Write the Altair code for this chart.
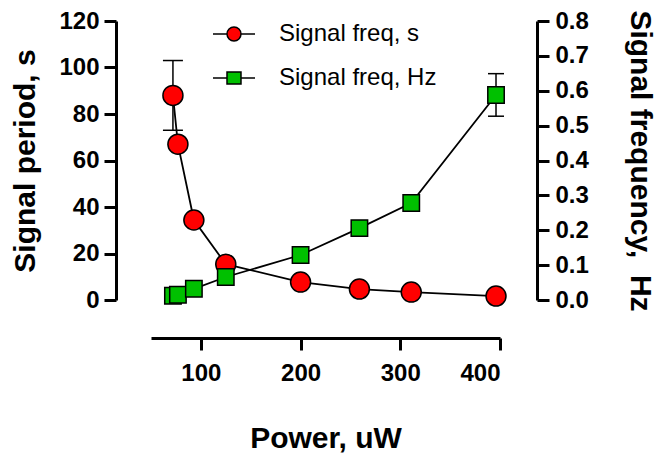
import altair as alt
import pandas as pd

# ---- data ----
power = [72, 77, 93, 125, 200, 259, 311, 396]
period = [88, 67, 34.4, 15.4, 7.7, 4.7, 3.4, 1.7]
period_err = [15, 0, 0, 0, 0, 0, 0, 0]
freq = [0.012, 0.015, 0.032, 0.066, 0.129, 0.206, 0.278, 0.588]
freq_err = [0, 0, 0, 0, 0, 0, 0, 0.061]
series_names = ["Signal freq, s", "Signal freq, Hz"]
x_ticks = [100, 200, 300, 400]
left_ticks = [0, 20, 40, 60, 80, 100, 120]
right_ticks = [0, 0.1, 0.2, 0.3, 0.4, 0.5, 0.6, 0.7, 0.8]

df = pd.DataFrame({"power": power, "period": period, "period_err": period_err,
                   "freq": freq, "freq_err": freq_err})
df["p_lo"] = df["period"] - df["period_err"]
df["p_hi"] = df["period"] + df["period_err"]
df["f_lo"] = df["freq"] - df["freq_err"]
df["f_hi"] = df["freq"] + df["freq_err"]

legend_df = pd.DataFrame({"series": series_names})

FONT = "Liberation Sans"

x_enc = alt.X("power:Q",
              scale=alt.Scale(domain=[50, 400], nice=False, zero=False),
              axis=alt.Axis(values=x_ticks, title="Power, uW", offset=38,
                            labelPadding=11, titlePadding=38))

y_left_scale = alt.Scale(domain=[0, 120], nice=False, zero=False)
y_left_axis = alt.Axis(values=left_ticks, title="Signal period, s", offset=35,
                       labelPadding=5, titlePadding=18)
y_right_scale = alt.Scale(domain=[0, 0.8], nice=False, zero=False)
y_right_axis = alt.Axis(values=right_ticks, format=".1f", orient="right",
                        title="Signal frequency,\u00a0\u00a0Hz", offset=37,
                        labelPadding=6, titlePadding=36)

base = alt.Chart(df)

left = alt.layer(
    base.mark_rule(color="black", strokeWidth=1.5).encode(
        x=x_enc, y=alt.Y("p_lo:Q", scale=y_left_scale, axis=y_left_axis), y2="p_hi:Q"),
    base.mark_tick(orient="horizontal", size=20, thickness=1.5, color="black", opacity=1).encode(
        x=x_enc, y=alt.Y("p_hi:Q", scale=y_left_scale, axis=y_left_axis)),
    base.mark_tick(orient="horizontal", size=20, thickness=1.5, color="black", opacity=1).encode(
        x=x_enc, y=alt.Y("p_lo:Q", scale=y_left_scale, axis=y_left_axis)),
    base.mark_line(color="black", strokeWidth=1.8).encode(
        x=x_enc, y=alt.Y("period:Q", scale=y_left_scale, axis=y_left_axis)),
    base.mark_point(shape="circle", filled=True, fill="#FF0000", stroke="black",
                    strokeWidth=1.5, size=400, opacity=1).encode(
        x=x_enc, y=alt.Y("period:Q", scale=y_left_scale, axis=y_left_axis)),
)

right = alt.layer(
    base.mark_rule(color="black", strokeWidth=1.5).encode(
        x=x_enc, y=alt.Y("f_lo:Q", scale=y_right_scale, axis=y_right_axis), y2="f_hi:Q"),
    base.mark_tick(orient="horizontal", size=16, thickness=1.5, color="black", opacity=1).encode(
        x=x_enc, y=alt.Y("f_hi:Q", scale=y_right_scale, axis=y_right_axis)),
    base.mark_tick(orient="horizontal", size=16, thickness=1.5, color="black", opacity=1).encode(
        x=x_enc, y=alt.Y("f_lo:Q", scale=y_right_scale, axis=y_right_axis)),
    base.mark_line(color="black", strokeWidth=1.8).encode(
        x=x_enc, y=alt.Y("freq:Q", scale=y_right_scale, axis=y_right_axis)),
    base.mark_point(shape="square", filled=True, fill="#00C000", stroke="black",
                    strokeWidth=1.5, size=270, opacity=1).encode(
        x=x_enc, y=alt.Y("freq:Q", scale=y_right_scale, axis=y_right_axis)),
)

circ_path = ("M-1,0L-0.333,0M0.333,0L1,0"
             "M0.333,0A0.333,0.333,0,1,1,-0.333,0A0.333,0.333,0,1,1,0.333,0Z")
sq_path = ("M-1,0L-0.333,0M0.333,0L1,0"
           "M-0.333,-0.29L0.333,-0.29L0.333,0.29L-0.333,0.29Z")

leg = alt.Legend(orient="none", legendX=61, legendY=-9, title=None,
                 labelFontSize=24, labelFont=FONT, labelColor="black",
                 symbolSize=1764, labelOffset=23, rowPadding=10, padding=0,
                 symbolStrokeColor="black", symbolStrokeWidth=1.5)

legend_layer = alt.Chart(legend_df).transform_filter("false").mark_point(
    filled=True, strokeWidth=1.5, opacity=1).encode(
    shape=alt.Shape("series:N", scale=alt.Scale(domain=series_names,
                                                range=[circ_path, sq_path]), legend=leg),
    fill=alt.Fill("series:N", scale=alt.Scale(domain=series_names,
                                              range=["#FF0000", "#00C000"]), legend=leg),
    stroke=alt.Stroke("series:N", scale=alt.Scale(domain=series_names,
                                                  range=["black", "black"]), legend=leg),
)

chart = alt.layer(left, right, legend_layer).resolve_scale(
    y="independent"
).properties(
    width=349, height=279,
    autosize=alt.AutoSizeParams(type="none"),
    padding={"left": 143, "top": 13, "right": 158, "bottom": 154},
).configure_view(stroke=None).configure_axis(
    grid=False, domainColor="black", domainWidth=3, tickColor="black",
    tickWidth=3, tickSize=12, labelFont=FONT, labelFontSize=24,
    labelFontWeight="bold", labelColor="black", titleFont=FONT,
    titleFontSize=30, titleFontWeight="bold", titleColor="black",
)

chart.save("out.html", embed_options={"renderer": "svg", "actions": False})
